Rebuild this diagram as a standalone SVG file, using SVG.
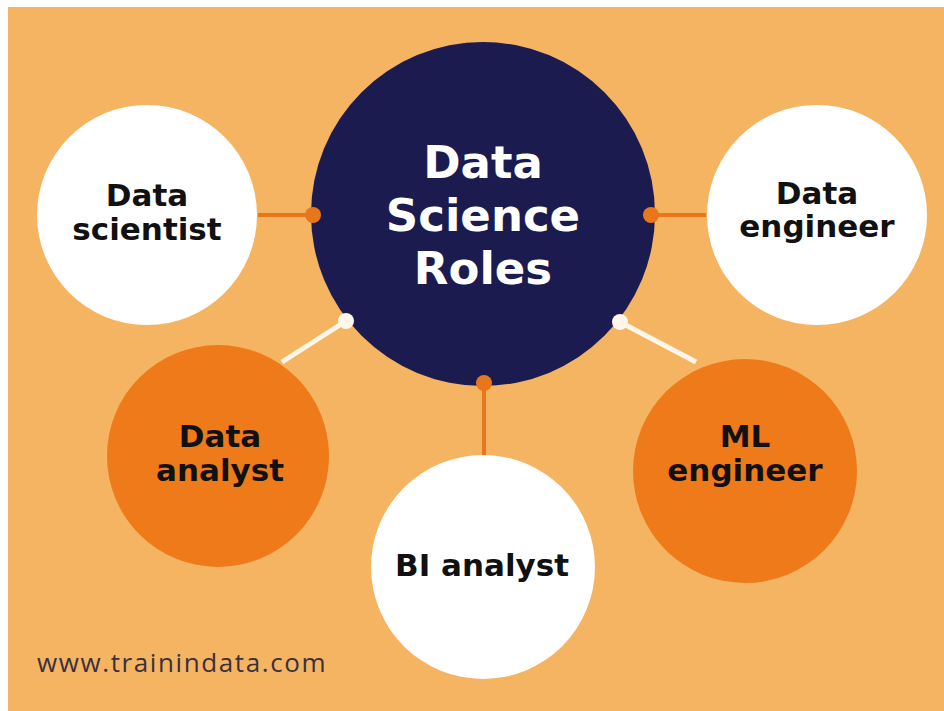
<svg xmlns="http://www.w3.org/2000/svg" width="944" height="711" viewBox="0 0 944 711">
<style>
.lbl{font-family:"DejaVu Sans","Open Sans",sans-serif;font-weight:700;text-anchor:middle;fill:#111111;font-size:31px}
.main{font-family:"DejaVu Sans","Open Sans",sans-serif;font-weight:700;text-anchor:middle;fill:#ffffff;font-size:45px}
.oline{stroke:#E8761C;stroke-width:4}
.wline{stroke:#FFF6EA;stroke-width:5}
.odot{fill:#E8761C}
.wdot{fill:#FFF6EA}
</style>
<rect x="0" y="0" width="944" height="711" fill="#ffffff"/>
<rect x="8" y="7" width="936" height="704" fill="#F5B461"/>
<g id="connectors">
<line class="oline" x1="258" y1="215" x2="313" y2="215"/>
<line class="oline" x1="651" y1="215" x2="706" y2="215"/>
<line class="oline" x1="484" y1="383" x2="484" y2="458"/>
<line class="wline" x1="346" y1="321" x2="282" y2="362"/>
<line class="wline" x1="620" y1="322" x2="696" y2="362"/>
</g>
<g id="center">
<circle cx="483" cy="214" r="172" fill="#1B1B4F"/>
<text class="main" x="483" y="178">Data</text>
<text class="main" x="483" y="231">Science</text>
<text class="main" x="483" y="284">Roles</text>
</g>
<g id="connector-dots">
<circle class="odot" cx="313" cy="215" r="8"/>
<circle class="odot" cx="651" cy="215" r="8"/>
<circle class="odot" cx="484" cy="383" r="8"/>
<circle class="wdot" cx="346" cy="321" r="8"/>
<circle class="wdot" cx="620" cy="322" r="8"/>
</g>
<g id="data-scientist">
<circle cx="147" cy="215" r="110" fill="#ffffff"/>
<text class="lbl" x="147" y="206">Data</text>
<text class="lbl" x="147" y="240">scientist</text>
</g>
<g id="data-engineer">
<circle cx="817" cy="215" r="110" fill="#ffffff"/>
<text class="lbl" x="817" y="204">Data</text>
<text class="lbl" x="817" y="237">engineer</text>
</g>
<g id="data-analyst">
<circle cx="218" cy="456" r="111" fill="#EE7A1A"/>
<text class="lbl" x="220" y="447">Data</text>
<text class="lbl" x="220" y="481">analyst</text>
</g>
<g id="ml-engineer">
<circle cx="745" cy="471" r="112" fill="#EE7A1A"/>
<text class="lbl" x="745" y="447">ML</text>
<text class="lbl" x="745" y="481">engineer</text>
</g>
<g id="bi-analyst">
<circle cx="483" cy="567" r="112" fill="#ffffff"/>
<text class="lbl" x="482" y="576">BI analyst</text>
</g>
<text x="37" y="672" font-family="'Open Sans','Noto Sans',sans-serif" font-size="26" letter-spacing="1.6" fill="#3A3040">www.trainindata.com</text>
</svg>
